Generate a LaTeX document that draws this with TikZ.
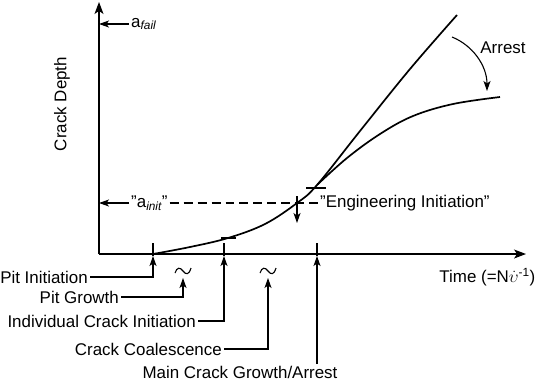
\documentclass[tikz,border=0pt]{standalone}
\usepackage{amsmath}
\usepackage{fontspec}
\setmainfont{Liberation Sans}
\usetikzlibrary{positioning, arrows.meta}

\begin{document}
\begin{tikzpicture}[x=1bp, y=-1bp, font=\fontsize{17}{20}\selectfont]
		\tikzstyle{axis} = [line width=1.1, -{Stealth[length=12pt,width=9pt,inset=3pt]}]
		\tikzstyle{curve} = [line width=1.7, line join=round]
		\tikzstyle{lead} = [line width=1.1, -{Stealth[length=10pt,width=7pt,inset=2.5pt]}]
		\tikzstyle{thin} = [line width=1.1]
		\tikzstyle{lbl} = [inner sep=2]
		\useasboundingbox (0,0) rectangle (536,383);

		\coordinate (o) at (99,254);
		\draw [axis] (o) -- (99,2);
		\draw [axis] (o) -- (526,254);
		\node [rotate=90] (depth) at (62,104) {Crack Depth};
		\node [inner sep=0.5, anchor=east] (time) at (536,277) {Time (=N$\dot{\upsilon}$\textsuperscript{-1})};

		\node [lbl, anchor=west] (afail) at (129,24) {a$_{\textit{fail}}$};
		\draw [lead] (afail.west) -- (afail.west -| o);
		\node [lbl, anchor=west] (ainit) at (129,203) {"a$_{\textit{init}}$"};
		\draw [lead] (ainit.west) -- (ainit.west -| o);
		\node [lbl, anchor=west] (eng) at (318,203) {"Engineering Initiation"};
		\draw [thin, dash pattern=on 9pt off 5pt] (ainit.east) -- (eng.west);

		\draw [curve] plot [smooth, tension=0.6] coordinates {(153,254) (190,247) (228,238) (265,224) (297,203) (317,185) (360,131) (410,69) (457,15)};
		\draw [curve] plot [smooth, tension=0.6] coordinates {(317,185) (347,158) (380,134) (413,116) (453,104) (500,97)};
		\draw [thin] (221,238) -- (236,238);
		\draw [thin] (306,188) -- (326,188);
		\coordinate (ei) at (297,203);
		\draw [lead] (ei) ++(0,-7) -- ++(0,27);

		\node (arrest) at (503,48) {Arrest};
		\draw [lead] (452,37) .. controls (472,45) and (487,65) .. (487,91);

		\coordinate (pi) at (153,256);
		\coordinate (pg) at (183,278);
		\coordinate (ici) at (224,256);
		\coordinate (cc) at (268,278);
		\coordinate (mcg) at (317,256);

		\node [lbl, anchor=east] (pitinit) at (90,277) {Pit Initiation};
		\node [lbl, anchor=east] (pitgrow) at (121,297) {Pit Growth};
		\node [lbl, anchor=east] (indcrack) at (198,321) {Individual Crack Initiation};
		\node [lbl, anchor=east] (coalesce) at (224,349) {Crack Coalescence};
		\node [lbl, anchor=north] (maincrack) at (240,364) {Main Crack Growth/Arrest};

		\draw [lead] (pitinit.east) -| (pi);
		\draw [lead] (pitgrow.east) -| (pg);
		\draw [lead] (indcrack.east) -| (ici);
		\draw [lead] (coalesce.east) -| (cc);
		\draw [lead] (maincrack.north -| mcg) -- (mcg);
		\draw [thin] (pi) -- (153,243);
		\draw [thin] (ici) -- (224,243);
		\draw [thin] (mcg) -- (317,243);

		\draw [thin] (175,273) .. controls (177,267) and (180,267) .. (183,271) .. controls (186,275) and (189,275) .. (191,268);
		\draw [thin] (260,273) .. controls (262,267) and (265,267) .. (268,271) .. controls (271,275) and (274,275) .. (276,268);
\end{tikzpicture}
\end{document}
